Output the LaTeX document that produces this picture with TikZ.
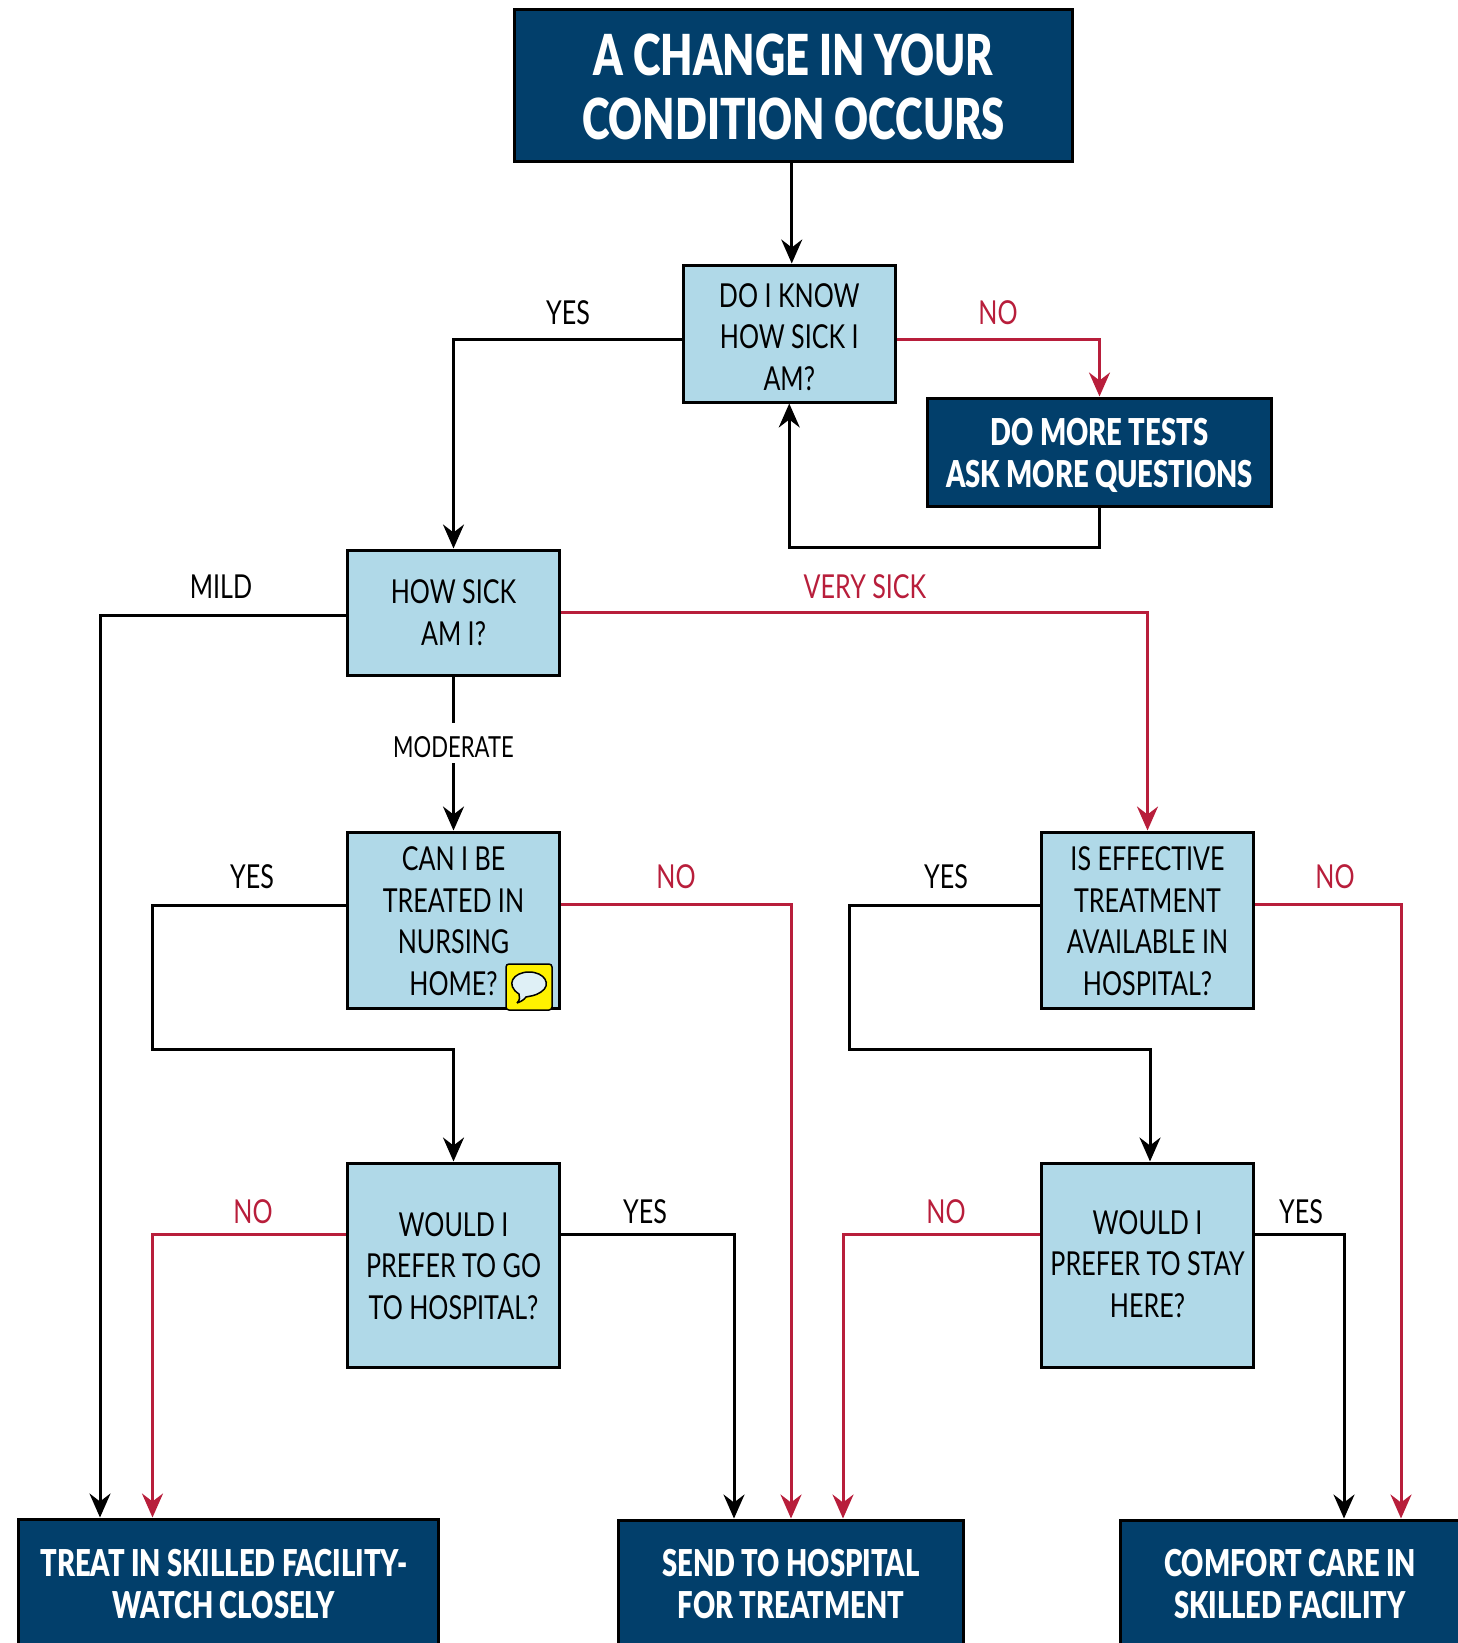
\documentclass[tikz,border=0pt]{standalone}
\usepackage{fontspec}
\setmainfont[FakeStretch=0.76,BoldFont={Lato Black},BoldFeatures={FakeStretch=0.74}]{Lato}
\usetikzlibrary{arrows.meta}
\definecolor{navy}{HTML}{023F6B}
\definecolor{pale}{HTML}{B0D9E8}
\definecolor{crimson}{HTML}{B81E3B}
\newcommand{\pad}[1]{\rule{0pt}{#1}}

\tikzstyle{block}=[draw=black, line width=3pt, inner sep=0pt, align=center]
\tikzstyle{ask}=[block, fill=pale, minimum width=212pt, font=\fontsize{33}{41.6}\selectfont]
\tikzstyle{act}=[block, fill=navy, text=white, font=\fontsize{37}{42}\selectfont\bfseries]
\tikzstyle{lbl}=[inner sep=1pt, font=\fontsize{33}{40}\selectfont]
\tikzstyle{nolbl}=[lbl, text=crimson]
\tikzstyle{link}=[line width=3pt, -{Stealth[length=24pt,width=21pt,inset=8pt]}]
\tikzstyle{linkno}=[link, draw=crimson]

\begin{document}
\begin{tikzpicture}[x=1pt, y=-1pt]
    \useasboundingbox (0, 0) rectangle (1457, 1643);
    \node[act, minimum width=558pt, minimum height=151pt, font=\fontsize{56.5}{64}\selectfont\bfseries]
        (change) at (793.5, 85.5) {\pad{44pt}A CHANGE IN YOUR\\CONDITION OCCURS};
    \node[ask, minimum height=137pt] (know)  at (789.25, 333.5) {\pad{31pt}DO I KNOW\\HOW SICK I\\AM?};
    \node[act, minimum width=344pt, minimum height=108pt] (tests) at (1099.5, 452) {\pad{35pt}DO MORE TESTS\\ASK MORE QUESTIONS};
    \node[ask, minimum height=125pt] (sick)  at (453.5, 612.5) {HOW SICK\\AM I?};
    \node[ask, minimum height=176pt] (nurse) at (453.5, 920) {\pad{26pt}CAN I BE\\TREATED IN\\NURSING\\HOME?};
    \node[ask, minimum height=176pt] (cure)  at (1147.5, 920) {\pad{26pt}IS EFFECTIVE\\TREATMENT\\AVAILABLE IN\\HOSPITAL?};
    \node[ask, minimum height=204pt] (go)    at (453.5, 1265) {\pad{26pt}WOULD I\\PREFER TO GO\\TO HOSPITAL?};
    \node[ask, minimum height=204pt] (stay)  at (1147.5, 1265) {WOULD I\\PREFER TO STAY\\HERE?\rule[-2pt]{0pt}{2pt}};
    \node[act, minimum width=420pt, minimum height=130pt] (treat)   at (228, 1584) {TREAT IN SKILLED FACILITY-\hspace*{8pt}\\WATCH CLOSELY\hspace*{8pt}};
    \node[act, minimum width=345pt, minimum height=128pt] (send)    at (791, 1584) {SEND TO HOSPITAL\\FOR TREATMENT};
    \node[act, minimum width=340pt, minimum height=128pt] (comfort) at (1290, 1584) {COMFORT CARE IN\\SKILLED FACILITY};

    % speech bubble
    \node[draw=black, line width=1.5pt, fill=yellow, rounded corners=3pt, minimum size=46pt, inner sep=0pt] (icon) at (529, 987) {};
    \draw[line width=1.5pt, fill=pale!40] (517, 1003) .. controls (520, 1000) and (520, 997) .. (519, 994)
        .. controls (505, 985) and (513, 972) .. (529, 972)
        .. controls (545, 972) and (552, 985) .. (541, 992)
        .. controls (535, 996) and (530, 996) .. (526, 997)
        .. controls (524, 1000) and (520, 1002) .. (517, 1003);

    \coordinate (turnl) at (152.5, 1049);
    \coordinate (turnr) at (849, 1049);

    \draw[link] (change.south -| know.north) ++(2.5pt, 0) -- ([xshift=2.5pt]know.north);
    \draw[link] ([yshift=-5.5pt]know.west) -| (sick.north);
    \draw[linkno] ([yshift=-5.5pt]know.east) -| (tests.north);
    \draw[link] (tests.south) -- ++(0, 40) -| (know.south);
    \draw[link] ([yshift=-3pt]sick.west) -| ([xshift=-128pt]treat.north);
    \draw[linkno] (sick.east) -| (cure.north);
    \draw[link] (sick.south) -- (nurse.north);
    \draw[link] ([yshift=14.5pt]nurse.west) -| (turnl) -| (go.north);
    \draw[linkno] ([yshift=15.5pt]nurse.east) -| (send.north);
    \draw[link] ([yshift=14.5pt]cure.west) -| (turnr) -| ([xshift=2.5pt]stay.north);
    \draw[linkno] ([yshift=15.5pt]cure.east) -| ([xshift=111pt]comfort.north);
    \draw[linkno] ([yshift=30.5pt]go.west) -| ([xshift=-75.5pt]treat.north);
    \draw[link] ([yshift=30.5pt]go.east) -| ([xshift=-57pt]send.north);
    \draw[linkno] ([yshift=30.5pt]stay.west) -| ([xshift=52pt]send.north);
    \draw[link] ([yshift=30.5pt]stay.east) -| ([xshift=54pt]comfort.north);

    \node[lbl]   (yesknow)  at (568, 313)  {YES};
    \node[nolbl] (noknow)   at (998, 313)  {NO};
    \node[lbl]   (mild)     at (221, 587)  {MILD};
    \node[nolbl] (verysick) at (865, 587)  {VERY SICK};
    \node[lbl, fill=white, inner xsep=3pt, inner ysep=5pt, font=\fontsize{29}{36}\selectfont] (moderate) at (453.5, 743) {\pad{29pt}MODERATE};
    \node[lbl]   (yesnurse) at (252, 877)  {YES};
    \node[nolbl] (nonurse)  at (676, 877)  {NO};
    \node[lbl]   (yescure)  at (946, 877)  {YES};
    \node[nolbl] (nocure)   at (1335, 877) {NO};
    \node[nolbl] (nogo)     at (253, 1211.5) {NO};
    \node[lbl]   (yesgo)    at (645, 1211.5) {YES};
    \node[nolbl] (nostay)   at (946, 1211.5) {NO};
    \node[lbl]   (yesstay)  at (1301, 1211.5) {YES};
\end{tikzpicture}
\end{document}
